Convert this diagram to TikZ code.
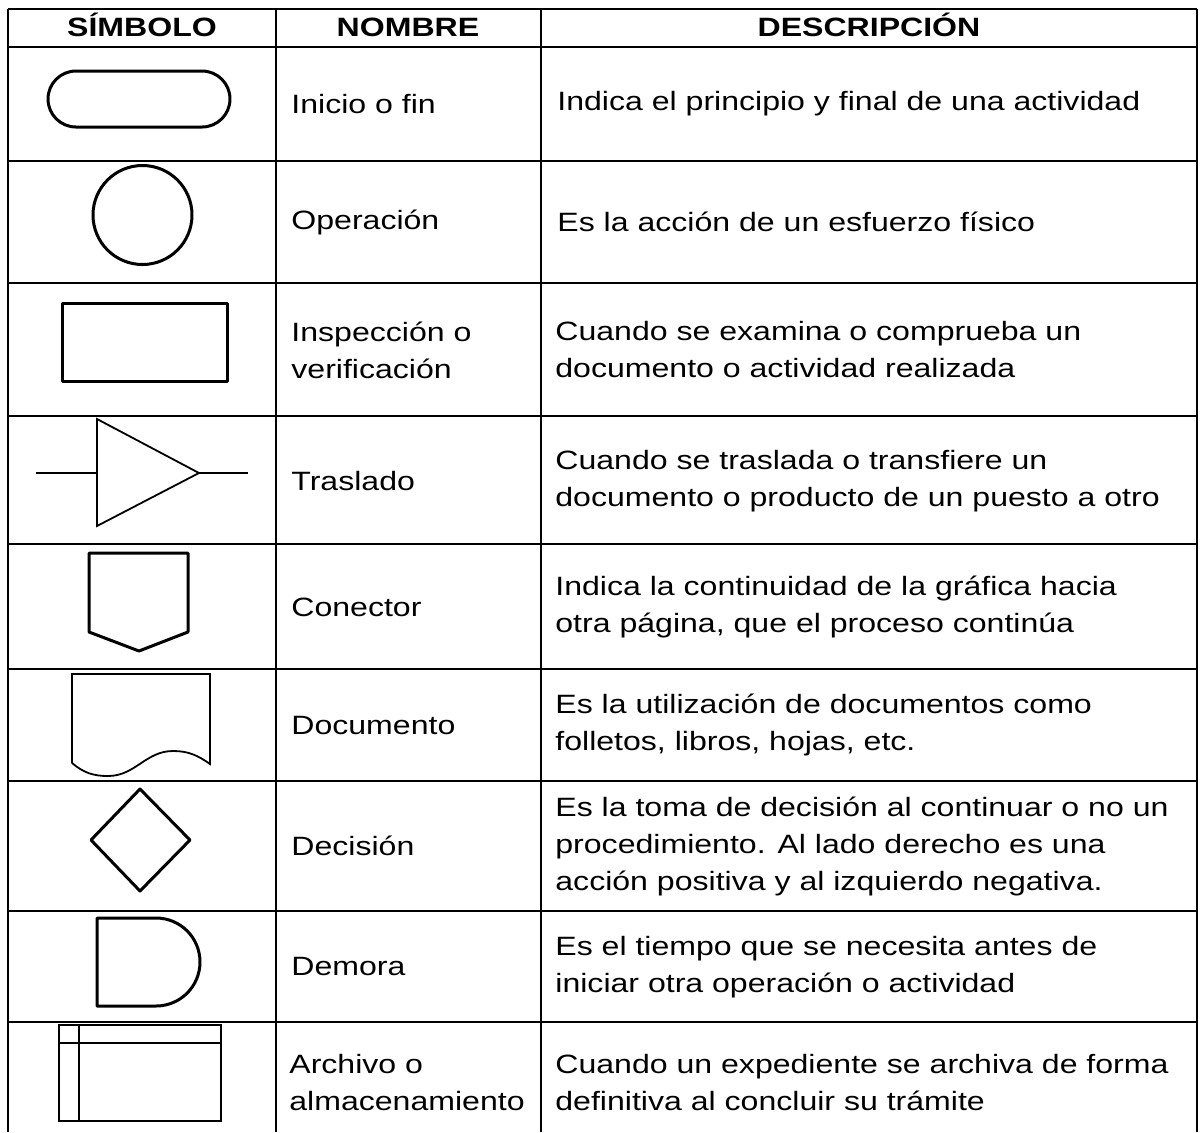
\documentclass[tikz,border=0pt]{standalone}
\usepackage{fontspec}
\setmainfont{Liberation Sans}[FakeStretch=1.21]
\begin{document}
\begin{tikzpicture}[x=0.5pt,y=-0.5pt,
    grid/.style={line width=1pt},
    sym/.style={line width=1.5pt, line join=round},
    thinsym/.style={line width=0.9pt},
    txt/.style={anchor=west, inner sep=0pt, align=left, font=\fontsize{13.25pt}{18.5pt}\selectfont},
    head/.style={anchor=base, inner sep=0pt, font=\fontsize{13.25pt}{18.5pt}\selectfont\bfseries}]
    \useasboundingbox (0,0) rectangle (1201,1132);
    % table rules
    \foreach \y in {9,47,161,283,416,544,669,781,911,1022}
        \draw [grid] (8,\y) -- (1197,\y);
    \foreach \x in {8,276,541,1197}
        \draw [grid] (\x,9) -- (\x,1132);
    % header
    \node [head] (h1) at (142,36) {SÍMBOLO};
    \node [head] (h2) at (408,36) {NOMBRE};
    \node [head] (h3) at (869,36) {DESCRIPCIÓN};
    % symbols
    \draw [sym, rounded corners=14pt] (48,71) rectangle (230,127);
    \draw [sym] (142.5,215) circle [radius=49.5];
    \draw [sym] (62,303) rectangle (227,381);
    \draw [thinsym] (97,419) -- (199,473) -- (97,526) -- cycle;
    \draw [thinsym] (36,473) -- (97,473);
    \draw [thinsym] (199,473) -- (248,473);
    \draw [sym] (89,553) -- (188,553) -- (188,632) -- (139,651) -- (89,632) -- cycle;
    \draw [thinsym] (72,763) -- (72,674) -- (210,674) -- (210,764)
        to [out=145,in=0] (173,751) to [out=180,in=0] (108,776) to [out=180,in=-40] (72,763);
    \draw [sym] (140,789) -- (190,840) -- (140,891) -- (91,840) -- cycle;
    \draw [sym] (97,918) -- (156,918) to [out=0,in=90] (200,962)
        to [out=-90,in=0] (156,1006) -- (97,1006) -- cycle;
    \draw [thinsym] (59,1025) rectangle (221,1121);
    \draw [thinsym] (59,1043) -- (221,1043);
    \draw [thinsym] (79,1025) -- (79,1121);
    % names
    \node [txt] (n1) at (291,104) {Inicio o fin};
    \node [txt] (n2) at (291,222) {Operación};
    \node [txt] (n3) at (291,350) {Inspección o\\verificación};
    \node [txt] (n4) at (291,481) {Traslado};
    \node [txt] (n5) at (291,607) {Conector};
    \node [txt] (n6) at (291,725) {Documento};
    \node [txt] (n7) at (291,846) {Decisión};
    \node [txt] (n8) at (291,966) {Demora};
    \node [txt] (n9) at (289,1083) {Archivo o\\almacenamiento};
    % descriptions
    \node [txt] (d1) at (557,104) {Indica el principio y final de una actividad};
    \node [txt] (d2) at (557,222) {Es la acción de un esfuerzo físico};
    \node [txt] (d3) at (555,350) {Cuando se examina o comprueba un\\documento o actividad realizada};
    \node [txt] (d4) at (555,481) {Cuando se traslada o transfiere un\\documento o producto de un puesto a otro};
    \node [txt] (d5) at (555,607) {Indica la continuidad de la gráfica hacia\\otra página, que el proceso continúa};
    \node [txt] (d6) at (555,725) {Es la utilización de documentos como\\folletos, libros, hojas, etc.};
    \node [txt] (d7) at (555,846) {Es la toma de decisión al continuar o no un\\procedimiento. Al lado derecho es una\\acción positiva y al izquierdo negativa.};
    \node [txt] (d8) at (555,967) {Es el tiempo que se necesita antes de\\iniciar otra operación o actividad};
    \node [txt] (d9) at (555,1083) {Cuando un expediente se archiva de forma\\definitiva al concluir su trámite};
\end{tikzpicture}
\end{document}
